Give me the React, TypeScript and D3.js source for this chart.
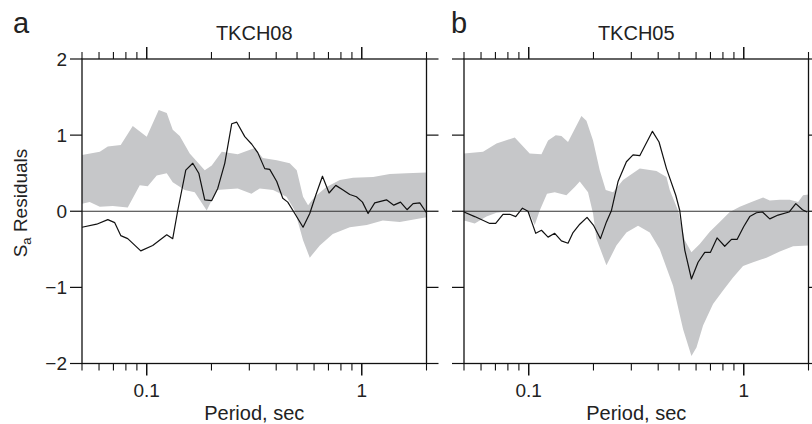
import * as d3 from "d3";

// TKCH08 (panel a) - black line, residual vs period
const tkch08LinePeriods = [0.05, 0.0585, 0.0659, 0.071, 0.0757, 0.0816, 0.0938, 0.1066, 0.1239, 0.1321, 0.1394, 0.1519, 0.1637, 0.1746, 0.1861, 0.2006, 0.2139, 0.2306, 0.2485, 0.2622, 0.2857, 0.308, 0.3283, 0.3538, 0.3733, 0.4024, 0.4292, 0.4527, 0.488, 0.5333, 0.573, 0.6109, 0.6565, 0.7046, 0.7569, 0.8185, 0.8796, 0.9448, 1.0076, 1.07, 1.149, 1.303, 1.409, 1.514, 1.624, 1.732, 1.862, 2.0];
const tkch08LineValues = [-0.21, -0.17, -0.11, -0.15, -0.32, -0.36, -0.52, -0.45, -0.31, -0.36, 0.01, 0.54, 0.63, 0.5, 0.15, 0.14, 0.3, 0.63, 1.15, 1.17, 0.98, 0.88, 0.77, 0.56, 0.55, 0.39, 0.17, 0.12, -0.03, -0.21, -0.03, 0.21, 0.46, 0.24, 0.34, 0.28, 0.22, 0.19, 0.12, -0.03, 0.11, 0.15, 0.08, 0.12, 0.02, 0.1, 0.11, -0.02];
// gray band
const tkch08UpperPeriods = [0.05, 0.0605, 0.0659, 0.0757, 0.0861, 0.1, 0.1137, 0.1239, 0.1321, 0.1424, 0.1585, 0.1861, 0.2006, 0.2234, 0.265, 0.318, 0.3464, 0.4024, 0.4625, 0.4984, 0.5333, 0.5627, 0.6045, 0.6852, 0.7906, 0.9111, 1.129, 1.35, 1.615, 2.0];
const tkch08Upper = [0.74, 0.78, 0.85, 0.87, 1.12, 0.98, 1.33, 1.29, 1.07, 0.99, 0.76, 0.54, 0.6, 0.78, 0.75, 0.83, 0.7, 0.67, 0.63, 0.54, 0.19, 0.08, 0.19, 0.32, 0.41, 0.44, 0.45, 0.49, 0.5, 0.51];
const tkch08LowerPeriods = [0.05, 0.0543, 0.0605, 0.0695, 0.0816, 0.0928, 0.1011, 0.1113, 0.1239, 0.1321, 0.1502, 0.1672, 0.1901, 0.2117, 0.2356, 0.265, 0.3069, 0.3354, 0.3868, 0.4466, 0.488, 0.5333, 0.573, 0.6378, 0.7331, 0.8796, 1.055, 1.252, 1.502, 2.0];
const tkch08Lower = [0.1, 0.12, 0.06, 0.07, 0.05, 0.34, 0.33, 0.47, 0.5, 0.38, 0.28, 0.25, 0.01, 0.28, 0.29, 0.3, 0.23, 0.3, 0.28, 0.19, 0.01, -0.38, -0.61, -0.45, -0.3, -0.21, -0.18, -0.12, -0.14, -0.08];

// TKCH05 (panel b)
const tkch05LinePeriods = [0.05, 0.0561, 0.0659, 0.0702, 0.0759, 0.0816, 0.087, 0.0935, 0.0992, 0.1078, 0.1146, 0.123, 0.1321, 0.1419, 0.1523, 0.1607, 0.1727, 0.1867, 0.2006, 0.2155, 0.2298, 0.2425, 0.2602, 0.2846, 0.3055, 0.3283, 0.3761, 0.4036, 0.4371, 0.4828, 0.5039, 0.5317, 0.571, 0.613, 0.6585, 0.7, 0.7513, 0.8156, 0.8766, 0.9307, 1.0, 1.066, 1.146, 1.222, 1.321, 1.444, 1.624, 1.746, 1.875, 1.97];
const tkch05LineValues = [-0.01, -0.07, -0.16, -0.16, -0.04, -0.04, -0.07, 0.04, 0.0, -0.29, -0.25, -0.34, -0.29, -0.39, -0.42, -0.28, -0.17, -0.08, -0.19, -0.36, -0.14, 0.01, 0.39, 0.65, 0.74, 0.73, 1.05, 0.91, 0.56, 0.21, 0.01, -0.51, -0.89, -0.67, -0.54, -0.54, -0.35, -0.46, -0.37, -0.37, -0.2, -0.07, -0.02, -0.01, -0.1, -0.05, -0.01, 0.1, 0.02, -0.01];
const tkch05UpperPeriods = [0.05, 0.0613, 0.0708, 0.0861, 0.101, 0.1146, 0.123, 0.1335, 0.1419, 0.1523, 0.1758, 0.1855, 0.1991, 0.2139, 0.2281, 0.2466, 0.2746, 0.3283, 0.3926, 0.4371, 0.4527, 0.4948, 0.5317, 0.571, 0.6242, 0.695, 0.7733, 0.8608, 0.9581, 1.086, 1.23, 1.321, 1.471, 1.637, 1.789, 1.887, 2.0];
const tkch05Upper = [0.76, 0.78, 0.89, 0.97, 0.76, 0.75, 0.93, 1.0, 0.99, 0.91, 1.25, 1.19, 0.93, 0.54, 0.28, 0.25, 0.41, 0.56, 0.53, 0.45, 0.28, 0.01, -0.38, -0.54, -0.43, -0.27, -0.14, -0.01, 0.06, 0.12, 0.18, 0.14, 0.15, 0.15, 0.12, 0.21, 0.22];
const tkch05LowerPeriods = [0.05, 0.0561, 0.0636, 0.0708, 0.0816, 0.0958, 0.101, 0.1066, 0.1125, 0.1216, 0.1321, 0.1497, 0.1637, 0.1727, 0.1887, 0.1991, 0.2064, 0.2298, 0.2557, 0.2846, 0.3224, 0.3655, 0.4068, 0.4691, 0.5221, 0.571, 0.6026, 0.6467, 0.7196, 0.8009, 0.8915, 0.9924, 1.105, 1.275, 1.471, 1.696, 2.0];
const tkch05Lower = [-0.12, -0.16, -0.07, -0.02, 0.0, 0.02, -0.03, -0.18, 0.01, 0.23, 0.25, 0.21, 0.32, 0.39, 0.25, -0.03, -0.36, -0.71, -0.45, -0.28, -0.19, -0.28, -0.5, -0.98, -1.55, -1.9, -1.79, -1.5, -1.22, -1.04, -0.87, -0.72, -0.67, -0.61, -0.53, -0.46, -0.45];

const xTicks = [0.05, 0.06, 0.07, 0.08, 0.09, 0.1, 0.2, 0.3, 0.4, 0.5, 0.6, 0.7, 0.8, 0.9, 1, 2];
const xMajor = [0.1, 1];
const xLabels = ["0.1", "1"];
const yTicks = [-2, -1, 0, 1, 2];
const yLabels = ["\u22122", "\u22121", "0", "1", "2"];

const FONT = "'Liberation Sans', Arial, Helvetica, sans-serif";
const TOP = 59;
const BOTTOM = 363.5;
const PW = 344.5;

type PanelProps = {
  left: number;
  title: string;
  letter: string;
  letterX: number;
  showYLabels: boolean;
  lp: number[]; lv: number[];
  up: number[]; uv: number[];
  dp: number[]; dv: number[];
};

function Panel({ left, title, letter, letterX, showYLabels, lp, lv, up, uv, dp, dv }: PanelProps) {
  const x = d3.scaleLog().domain([0.05, 2]).range([left, left + PW]);
  const y = d3.scaleLinear().domain([-2, 2]).range([BOTTOM, TOP]);
  const right = left + PW;

  const line = d3.line<[number, number]>().x((d) => x(d[0])).y((d) => y(d[1]));
  const linePts: [number, number][] = lp.map((p, i) => [p, lv[i]]);
  const bandPts: [number, number][] = [
    ...up.map((p, i) => [p, uv[i]] as [number, number]),
    ...dp.map((p, i) => [p, dv[i]] as [number, number]).reverse(),
  ];

  return (
    <g>
      <path d={line(bandPts) + "Z"} fill="#c6c7c9" stroke="none" />
      <line x1={left} x2={right} y1={y(0)} y2={y(0)} stroke="#333" strokeWidth={1} />
      <path d={line(linePts) || ""} fill="none" stroke="#111" strokeWidth={1.2} strokeLinejoin="round" />
      <rect x={left} y={TOP} width={PW} height={BOTTOM - TOP} fill="none" stroke="#111" strokeWidth={1.3} />
      {xTicks.map((t) => {
        const len = xMajor.includes(t) ? 12 : 7;
        return (
          <g key={"xt" + t}>
            <line x1={x(t)} x2={x(t)} y1={TOP} y2={TOP - len} stroke="#111" strokeWidth={xMajor.includes(t) ? 1.5 : 1.1} />
            <line x1={x(t)} x2={x(t)} y1={BOTTOM} y2={BOTTOM + len} stroke="#111" strokeWidth={xMajor.includes(t) ? 1.5 : 1.1} />
          </g>
        );
      })}
      {yTicks.map((t) => (
        <g key={"yt" + t}>
          <line x1={left - 12} x2={left} y1={y(t)} y2={y(t)} stroke="#111" strokeWidth={1.2} />
          <line x1={right} x2={right + 12} y1={y(t)} y2={y(t)} stroke="#111" strokeWidth={1.2} />
        </g>
      ))}
      {showYLabels &&
        yTicks.map((t, i) => (
          <text key={"yl" + t} x={left - 15} y={y(t)} dy="0.36em" textAnchor="end" fontSize={19} fill="#222">
            {yLabels[i]}
          </text>
        ))}
      {xMajor.map((t, i) => (
        <text key={"xl" + t} x={x(t)} y={397} textAnchor="middle" fontSize={19} fill="#222">
          {xLabels[i]}
        </text>
      ))}
      <text x={(left + right) / 2} y={420} textAnchor="middle" fontSize={20} fill="#222">
        Period, sec
      </text>
      <text x={(left + right) / 2} y={40} textAnchor="middle" fontSize={20} fill="#222">
        {title}
      </text>
      <text x={letterX} y={33} fontSize={29} fill="#222">
        {letter}
      </text>
    </g>
  );
}

export default function App() {
  return (
    <svg
      width={812}
      height={424}
      style={{ position: "absolute", left: 0, top: 0, background: "#fff", fontFamily: FONT }}
    >
      <Panel left={82} title="TKCH08" letter="a" letterX={13} showYLabels lp={tkch08LinePeriods} lv={tkch08LineValues}
        up={tkch08UpperPeriods} uv={tkch08Upper} dp={tkch08LowerPeriods} dv={tkch08Lower} />
      <Panel left={464} title="TKCH05" letter="b" letterX={451} showYLabels={false} lp={tkch05LinePeriods} lv={tkch05LineValues}
        up={tkch05UpperPeriods} uv={tkch05Upper} dp={tkch05LowerPeriods} dv={tkch05Lower} />
      <text transform="translate(27,203) rotate(-90)" textAnchor="middle" fontSize={19} fill="#222">
        S<tspan fontSize={13} dy={4}>a</tspan>
        <tspan dy={-4}> Residuals</tspan>
      </text>
    </svg>
  );
}
